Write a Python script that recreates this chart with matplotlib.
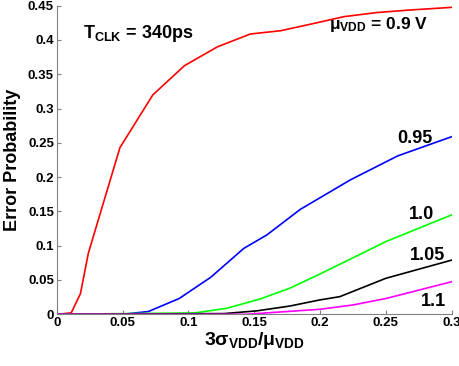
import matplotlib
matplotlib.use("Agg")
import matplotlib.pyplot as plt
from matplotlib.ticker import FuncFormatter

plt.rcParams['font.family'] = ['Liberation Sans', 'DejaVu Sans']
plt.rcParams['font.weight'] = 'bold'
plt.rcParams['mathtext.fontset'] = 'custom'
plt.rcParams['mathtext.rm'] = 'Liberation Sans:bold'
plt.rcParams['mathtext.it'] = 'Liberation Sans:bold'
plt.rcParams['mathtext.bf'] = 'Liberation Sans:bold'

# 3*sigma/mu vs error probability, one curve per mean VDD
x_09 = [0, 0.011, 0.018, 0.024, 0.048, 0.073, 0.097, 0.122, 0.147, 0.170, 0.195, 0.218, 0.243, 0.268, 0.3]
y_09 = [0, 0.002, 0.030, 0.089, 0.243, 0.320, 0.3625, 0.390, 0.4087, 0.4135, 0.424, 0.434, 0.440, 0.4437, 0.4476]

x_095 = [0, 0.05, 0.0696, 0.093, 0.117, 0.142, 0.1595, 0.185, 0.223, 0.259, 0.3]
y_095 = [0, 0.0, 0.004, 0.023, 0.054, 0.096, 0.1156, 0.153, 0.196, 0.231, 0.259]

x_10 = [0, 0.105, 0.129, 0.154, 0.177, 0.2, 0.25, 0.3]
y_10 = [0, 0.002, 0.0087, 0.022, 0.038, 0.0588, 0.106, 0.145]

x_105 = [0, 0.127, 0.152, 0.177, 0.2, 0.215, 0.25, 0.3]
y_105 = [0, 0.001, 0.005, 0.012, 0.021, 0.0257, 0.0525, 0.079]

x_11 = [0, 0.144, 0.2, 0.225, 0.25, 0.3]
y_11 = [0, 0.0, 0.0073, 0.0136, 0.023, 0.0475]

xticks = [0, 0.05, 0.1, 0.15, 0.2, 0.25, 0.3]
yticks = [0, 0.05, 0.1, 0.15, 0.2, 0.25, 0.3, 0.35, 0.4, 0.45]

fig = plt.figure(figsize=(4.6, 3.66), dpi=100)
ax = fig.add_axes([0.1233, 0.1413, 0.8587, 0.8431])

lw = 1.2
ax.plot(x_09, y_09, color='#ff0000', lw=lw)
ax.plot(x_095, y_095, color='#0000ff', lw=lw)
ax.plot(x_10, y_10, color='#00ff00', lw=lw)
ax.plot(x_105, y_105, color='black', lw=lw)
ax.plot(x_11, y_11, color='#ff00ff', lw=lw)

ax.set_xlim(0, 0.3)
ax.set_ylim(0, 0.45)
ax.set_xticks(xticks)
ax.set_yticks(yticks)
fmt = FuncFormatter(lambda v, p: '%g' % round(v, 3))
ax.xaxis.set_major_formatter(fmt)
ax.yaxis.set_major_formatter(fmt)
ax.tick_params(direction='in', length=3, width=0.8, color='#808080',
               labelsize=9.5, pad=2)
for s in ['top', 'right']:
    ax.spines[s].set_visible(False)
for s in ['left', 'bottom']:
    ax.spines[s].set_color('#808080')
    ax.spines[s].set_linewidth(0.8)

ax.set_ylabel('Error Probability', fontsize=13, fontweight='bold', labelpad=5)
ax.set_xlabel(r'$3\sigma_{\mathrm{VDD}}/\mu_{\mathrm{VDD}}$', fontsize=14, labelpad=1)

ax.text(0.02, 0.41, r'$\mathrm{T_{CLK}}$ = 340ps', fontsize=13, va='center')
ax.text(0.207, 0.423, r'$\mu_{\mathrm{VDD}}$ = 0.9 V', fontsize=12.5, va='center')
ax.text(0.259, 0.257, '0.95', fontsize=13, va='center')
ax.text(0.2675, 0.145, '1.0', fontsize=13, va='center')
ax.text(0.268, 0.0857, '1.05', fontsize=13, va='center')
ax.text(0.2765, 0.0187, '1.1', fontsize=13, va='center')

fig.savefig('out.png', dpi=100)
